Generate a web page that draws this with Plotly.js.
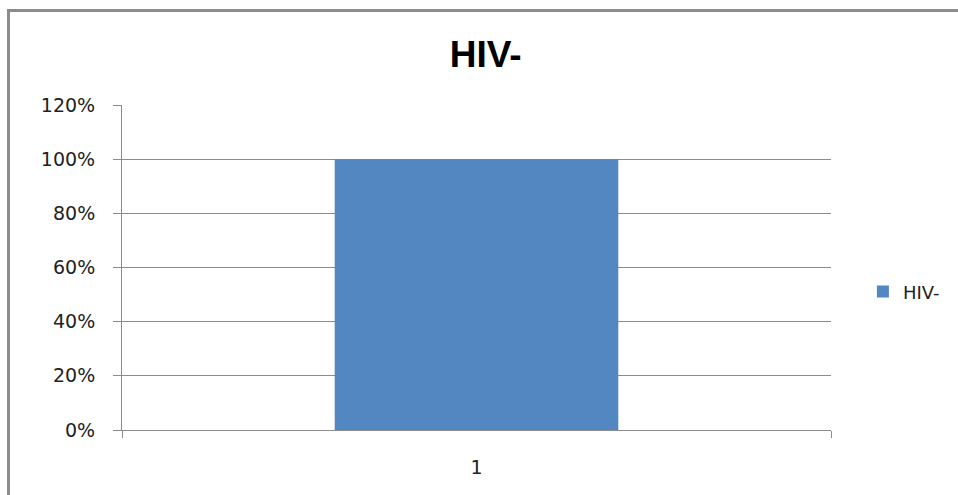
<!DOCTYPE html>
<html>
<head>
<meta charset="utf-8">
<script src="https://cdn.plot.ly/plotly-3.0.1.min.js"></script>
<style>
html,body{margin:0;padding:0;background:#fff;}
#wrap{position:relative;width:958px;height:495px;overflow:hidden;}
#chart{position:absolute;left:0;top:0;width:958px;height:495px;}
#frame{position:absolute;left:7px;top:9px;width:1000px;height:600px;border-left:3px solid #8c8c8c;border-top:3px solid #8c8c8c;pointer-events:none;}
</style>
</head>
<body>
<div id="wrap"><div id="chart"></div><div id="frame"></div></div>
<script>
const categories = ["1"];
const seriesName = "HIV-";
const values = [1.0];
const yTickVals = [0, 0.2, 0.4, 0.6, 0.8, 1.0, 1.2];
const yTickText = ["0%", "20%", "40%", "60%", "80%", "100%", "120%"];

const trace = {
  type: "bar",
  x: categories,
  y: values,
  name: seriesName,
  marker: {color: "#5387C1"},
  showlegend: true,
  hoverinfo: "none"
};

const layout = {
  width: 958, height: 495,
  margin: {l: 122, r: 127, t: 105, b: 65, autoexpand: false},
  paper_bgcolor: "#fff", plot_bgcolor: "#fff",
  title: {text: "<b>HIV-</b>", x: 0.507, xanchor: "center", y: 0.89, yanchor: "middle",
          font: {family: "Liberation Sans, Arial, sans-serif", size: 37, color: "#000"}},
  bargap: 0.6,
  font: {family: "DejaVu Sans, Verdana, sans-serif", size: 19, color: "#222"},
  xaxis: {
    type: "category", range: [-0.5, 0.5], tickson: "boundaries",
    showline: true, linecolor: "#8c8c8c", linewidth: 1,
    ticks: "outside", ticklen: 7, tickcolor: "#8c8c8c",
    ticklabelstandoff: 20,
    showgrid: false, zeroline: false, fixedrange: true
  },
  yaxis: {
    range: [0, 1.2], tickvals: yTickVals, ticktext: yTickText,
    showline: true, linecolor: "#8c8c8c", linewidth: 1,
    ticks: "outside", ticklen: 8, tickcolor: "#8c8c8c",
    ticklabelstandoff: 14,
    showgrid: true, gridcolor: "#8c8c8c", gridwidth: 1,
    zeroline: false, fixedrange: true
  },
  legend: {x: 1.045, xanchor: "left", y: 0.425, yanchor: "middle",
           font: {family: "DejaVu Sans, Verdana, sans-serif", size: 18, color: "#222"},
           itemwidth: 30, bgcolor: "rgba(0,0,0,0)"},
  showlegend: true
};

Plotly.newPlot("chart", [trace], layout, {displayModeBar: false, staticPlot: true});
</script>
</body>
</html>
